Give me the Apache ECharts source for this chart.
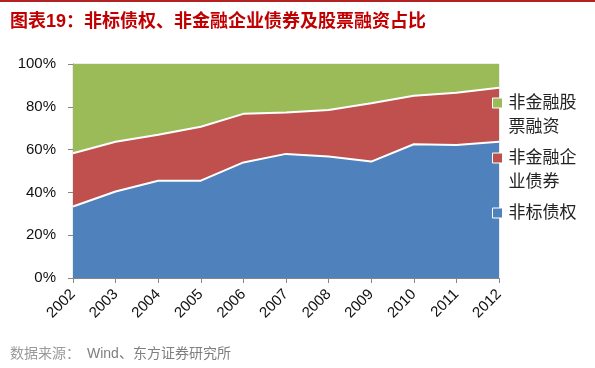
<!DOCTYPE html>
<html>
<head>
<meta charset="utf-8">
<script src="https://cdn.jsdelivr.net/npm/echarts@6/dist/echarts.min.js"></script>
<style>
html,body{margin:0;padding:0;background:#fff;}
#c{width:595px;height:368px;}
</style>
</head>
<body>
<div id="c"></div>
<script>
var years = ['2002','2003','2004','2005','2006','2007','2008','2009','2010','2011','2012'];
var nonStdDebt = [33.4, 40.4, 45.4, 45.5, 54.0, 58.0, 56.8, 54.4, 62.5, 62.2, 63.7];
var corpBond   = [24.9, 23.3, 21.5, 25.2, 22.7, 19.3, 21.7, 27.3, 22.7, 24.4, 25.2];
var equityFin  = [41.7, 36.3, 33.1, 29.3, 23.3, 22.7, 21.5, 18.3, 14.8, 13.4, 11.1];
var seriesNames = ['非标债权', '非金融企业债券', '非金融股票融资'];
var legendLabels = ['非标债权', '非金融企\n业债券', '非金融股\n票融资'];
var yTicks = [0, 20, 40, 60, 80, 100];

var CJK = '"Liberation Sans", "Noto Sans CJK SC", sans-serif';
var colors = ['#4F81BD', '#C0504D', '#9BBB59'];
var chart = echarts.init(document.getElementById('c'));

function areaSeries(name, data, color, lineW) {
  return {
    name: name, type: 'line', stack: 'total', data: data,
    symbol: 'none', showSymbol: false,
    lineStyle: {color: '#fff', width: lineW},
    itemStyle: {color: color},
    areaStyle: {color: color, opacity: 1}
  };
}

function mkLegend(idx, top) {
  return {
    orient: 'vertical', left: 492, top: top, padding: 0,
    data: [seriesNames[idx]],
    icon: 'rect', itemWidth: 10, itemHeight: 10,
    itemStyle: {borderColor: '#fff', borderWidth: 1},
    formatter: function () { return (idx === 0 ? '' : '\n') + legendLabels[idx]; },
    textStyle: {fontFamily: CJK, fontSize: 17, lineHeight: 24, color: '#222', padding: [0,0,0,1]},
    selectedMode: false
  };
}

chart.setOption({
  animation: false,
  color: colors,
  grid: {left: 73, right: 96, top: 64, bottom: 90, show: true, borderColor: '#D9D9D9', borderWidth: 1},
  graphic: [
    {type: 'rect', left: 0, top: 0, shape: {width: 595, height: 2}, style: {fill: '#B22222'}},
    {type: 'text', left: 10, top: 13, style: {text: '图表19：非标债权、非金融企业债券及股票融资占比', fill: '#C00000', font: 'bold 18px ' + CJK}},
    {type: 'text', left: 10, top: 347, style: {text: '数据来源：', fill: '#9a9a9a', font: '14px ' + CJK}},
    {type: 'text', left: 87, top: 347, style: {text: 'Wind、东方证券研究所', fill: '#7f7f7f', font: '14px ' + CJK}}
  ],
  legend: [mkLegend(2, 67), mkLegend(1, 122), mkLegend(0, 201)],
  xAxis: {
    type: 'category', data: years, boundaryGap: false,
    axisLine: {lineStyle: {color: '#868686'}},
    axisTick: {show: true, length: 5, lineStyle: {color: '#868686'}},
    axisLabel: {rotate: 45, margin: 14, fontSize: 15, color: '#111', fontFamily: CJK, interval: 0}
  },
  yAxis: {
    type: 'value', min: 0, max: 100, interval: 20,
    axisLine: {show: true, lineStyle: {color: '#868686'}},
    axisTick: {show: true, length: 5, lineStyle: {color: '#868686'}},
    splitLine: {show: false},
    axisLabel: {
      margin: 17, fontSize: 15, color: '#111', fontFamily: CJK,
      formatter: function (v) { return yTicks.indexOf(v) >= 0 ? v + '%' : ''; }
    }
  },
  series: [
    areaSeries(seriesNames[0], nonStdDebt, colors[0], 2),
    areaSeries(seriesNames[1], corpBond, colors[1], 2),
    areaSeries(seriesNames[2], equityFin, colors[2], 0)
  ]
});
</script>
</body>
</html>
